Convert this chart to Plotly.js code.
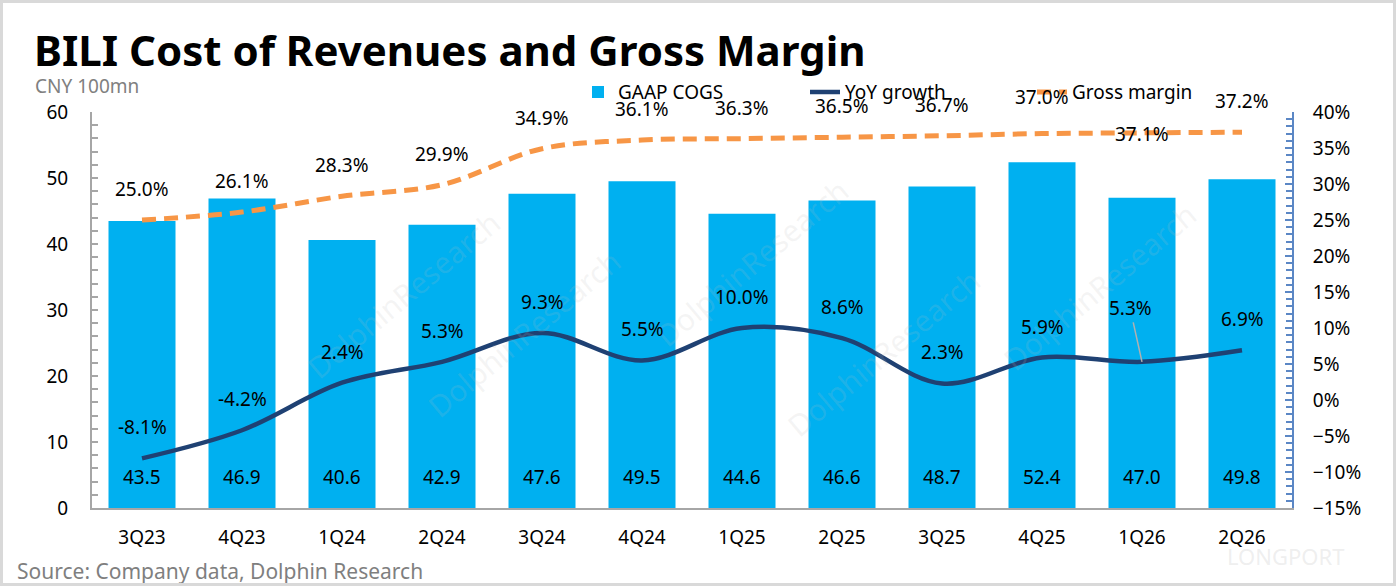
<!DOCTYPE html>
<html>
<head>
<meta charset="utf-8">
<script src="https://cdn.plot.ly/plotly-3.0.1.min.js"></script>
<style>
  body { margin: 0; background: #fff; }
  #wrap { position: relative; width: 1396px; height: 586px; }
  #frame { position: absolute; left: 0; top: 0; width: 1396px; height: 586px; box-sizing: border-box;
           border: 3px solid #d9d9d9; pointer-events: none; }
</style>
</head>
<body>
<div id="wrap">
  <div id="chart" style="width:1396px;height:586px;"></div>
  <div id="frame"></div>
</div>
<script>
var quarters = ['3Q23', '4Q23', '1Q24', '2Q24', '3Q24', '4Q24', '1Q25', '2Q25', '3Q25', '4Q25', '1Q26', '2Q26'];
var cogs = [43.5, 46.9, 40.6, 42.9, 47.6, 49.5, 44.6, 46.6, 48.7, 52.4, 47.0, 49.8];
var yoyGrowth = [-8.1, -4.2, 2.4, 5.3, 9.3, 5.5, 10.0, 8.6, 2.3, 5.9, 5.3, 6.9];
var grossMargin = [25.0, 26.1, 28.3, 29.9, 34.9, 36.1, 36.3, 36.5, 36.7, 37.0, 37.1, 37.2];

var font = 'Noto Sans, Open Sans, sans-serif';
var barColor = '#00b0f0';
var navy = '#1f4173';
var orange = '#f79646';
var fs = 19;
var pctRange = [-0.15, 0.40];

var data = [{
    type: 'bar',
    name: 'GAAP COGS',
    x: quarters,
    y: cogs,
    width: 0.67,
    marker: {color: barColor},
    hoverinfo: 'x+y'
}, {
    type: 'scatter',
    mode: 'lines',
    name: 'YoY growth',
    x: quarters,
    y: yoyGrowth.map(function (v) { return v / 100; }),
    yaxis: 'y2',
    line: {color: navy, width: 4.5, shape: 'spline', smoothing: 1}
}, {
    type: 'scatter',
    mode: 'lines',
    name: 'Gross margin',
    x: quarters,
    y: grossMargin.map(function (v) { return v / 100; }),
    yaxis: 'y3',
    line: {color: orange, width: 5, dash: '14px,8px', shape: 'spline', smoothing: 1}
}];

var annotations = [];

// faint watermarks first so they sit under the labels
[[0.17, 0.78], [0.55, 0.62], [0.93, 0.8], [0.27, 0.2], [0.66, 0.15]].forEach(function (p) {
    annotations.push({
        xref: 'paper', yref: 'paper', x: p[0], y: p[1], showarrow: false, textangle: -40,
        text: 'DolphinResearch', font: {family: font, size: 30, color: 'rgba(190,190,190,0.16)'}
    });
});
annotations.push({
    xref: 'paper', yref: 'paper', x: 1.045, y: -0.165, showarrow: false,
    text: 'LONGPORT', font: {family: font, size: 22, color: 'rgba(200,200,200,0.3)'}
});

// bar values sit at the foot of each bar
quarters.forEach(function (q, i) {
    annotations.push({
        x: q, y: 0, xref: 'x', yref: 'y', yanchor: 'bottom', yshift: 16,
        text: cogs[i].toFixed(1), showarrow: false,
        font: {family: font, size: fs, color: '#000'}
    });
});

// yoy labels
quarters.forEach(function (q, i) {
    var a = {
        x: q, y: yoyGrowth[i] / 100, xref: 'x', yref: 'y2', yanchor: 'bottom', yshift: 16,
        text: yoyGrowth[i].toFixed(1) + '%', showarrow: false,
        font: {family: font, size: fs, color: '#000'}
    };
    if (q === '1Q26') {
        // label pulled up with a leader line
        a = {
            x: q, y: yoyGrowth[i] / 100, xref: 'x', yref: 'y2',
            text: yoyGrowth[i].toFixed(1) + '%', showarrow: true, arrowhead: 0,
            arrowcolor: '#b0b0b0', arrowwidth: 1.5, ax: -12, ay: -54, standoff: 0,
            font: {family: font, size: fs, color: '#000'}
        };
    }
    annotations.push(a);
});

// gross margin labels
quarters.forEach(function (q, i) {
    var shift = 16;
    var anchor = 'bottom';
    if (q === '4Q25') shift = 22;
    if (q === '1Q26') { shift = -1; anchor = 'middle'; }
    annotations.push({
        x: q, y: grossMargin[i] / 100, xref: 'x', yref: 'y3', yanchor: anchor, yshift: shift,
        text: grossMargin[i].toFixed(1) + '%', showarrow: false,
        font: {family: font, size: fs, color: '#000'}
    });
});

// titles and notes
annotations.push({
    xref: 'paper', yref: 'paper', x: -0.05, y: 1.158, xanchor: 'left', yanchor: 'middle',
    text: '<b>BILI Cost of Revenues and Gross Margin</b>', showarrow: false,
    font: {family: font, size: 42, color: '#000'}
});
annotations.push({
    xref: 'paper', yref: 'paper', x: -0.049, y: 1.066, xanchor: 'left', yanchor: 'middle',
    text: 'CNY 100mn', showarrow: false,
    font: {family: font, size: 19, color: '#808080'}
});
annotations.push({
    xref: 'paper', yref: 'paper', x: -0.064, y: -0.159, xanchor: 'left', yanchor: 'middle',
    text: 'Source: Company data, Dolphin Research', showarrow: false,
    font: {family: font, size: 21, color: '#7f7f7f'}
});

var layout = {
    width: 1396,
    height: 586,
    margin: {l: 92, r: 104, t: 112, b: 78},
    paper_bgcolor: '#fff',
    plot_bgcolor: '#fff',
    font: {family: font, size: fs, color: '#000'},
    showlegend: true,
    legend: {
        orientation: 'h', x: 0.405, y: 1.05, xanchor: 'left', yanchor: 'middle',
        font: {family: font, size: fs, color: '#000'},
        entrywidth: 182, bgcolor: 'rgba(0,0,0,0)'
    },
    xaxis: {
        type: 'category',
        showline: true, linecolor: '#a6a6a6', linewidth: 2,
        ticks: '', showgrid: false, zeroline: false,
        tickfont: {family: font, size: fs}, ticklabelstandoff: 11
    },
    yaxis: {
        range: [0, 60], dtick: 10,
        showline: true, linecolor: '#a6a6a6', linewidth: 2,
        ticks: 'inside', ticklen: 6, tickcolor: '#a6a6a6', tickwidth: 2,
        minor: {dtick: 2, ticks: 'inside', ticklen: 6, tickcolor: '#a6a6a6', tickwidth: 2},
        showgrid: false, zeroline: false,
        tickfont: {family: font, size: fs}, ticklabelstandoff: 18
    },
    // right axis labels, pushed out with invisible ticks
    yaxis2: {
        overlaying: 'y', side: 'right',
        range: pctRange, dtick: 0.05, tickformat: '.0%',
        showline: false, ticks: 'outside', ticklen: 16, tickcolor: 'rgba(0,0,0,0)',
        showgrid: false, zeroline: false,
        tickfont: {family: font, size: fs}
    },
    // right axis line and tick marks (same scale)
    yaxis3: {
        overlaying: 'y', side: 'right',
        range: pctRange, dtick: 0.05, showticklabels: false,
        showline: true, linecolor: '#5b87c5', linewidth: 2,
        ticks: 'inside', ticklen: 7, tickcolor: '#5b87c5', tickwidth: 2,
        minor: {dtick: 0.01, ticks: 'inside', ticklen: 6, tickcolor: '#5b87c5', tickwidth: 2},
        showgrid: false, zeroline: false
    },
    annotations: annotations
};

Plotly.newPlot('chart', data, layout, {displayModeBar: false, staticPlot: true});
</script>
</body>
</html>
